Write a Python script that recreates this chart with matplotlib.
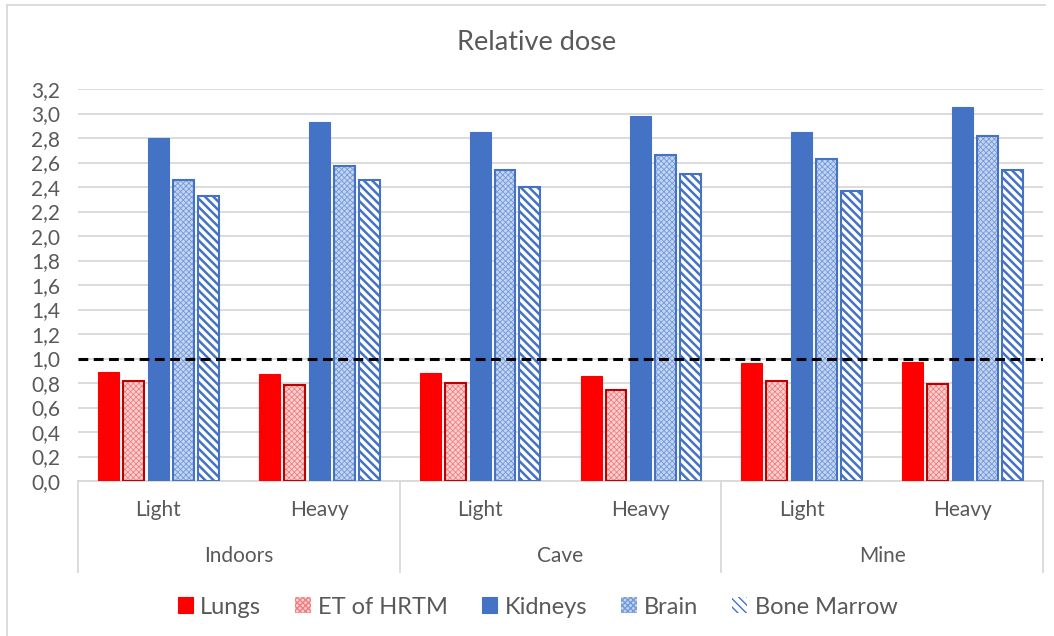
import matplotlib
matplotlib.use("Agg")
import matplotlib.pyplot as plt
import numpy as np
from matplotlib.lines import Line2D
from matplotlib.transforms import blended_transform_factory

groups = ["Indoors", "Cave", "Mine"]
levels = ["Light", "Heavy"]
series = ["Lungs", "ET of HRTM", "Kidneys", "Brain", "Bone Marrow"]
lungs = [0.89, 0.87, 0.88, 0.86, 0.96, 0.97]
et_hrtm = [0.82, 0.78, 0.80, 0.74, 0.82, 0.79]
kidneys = [2.80, 2.93, 2.85, 2.98, 2.85, 3.05]
brain = [2.46, 2.57, 2.54, 2.66, 2.63, 2.82]
bone_marrow = [2.33, 2.46, 2.40, 2.51, 2.37, 2.54]
yticks = [0.0, 0.2, 0.4, 0.6, 0.8, 1.0, 1.2, 1.4, 1.6, 1.8, 2.0, 2.2, 2.4, 2.6, 2.8, 3.0, 3.2]

plt.rcParams['font.family'] = ['Lato', 'DejaVu Sans']
TXT = '#595959'
GRID = '#D9D9D9'
FS = 15

W, H = 1054, 636
fig = plt.figure(figsize=(W / 100, H / 100), dpi=100)
ax = fig.add_axes([78 / W, 1 - 481 / H, (1043 - 78) / W, (481 - 89) / H])

n = len(lungs)
x = np.arange(n)
pitch = 0.155
width = 0.13
styles = [
    dict(facecolor='#FF0000', edgecolor='#FF0000', hatch=None, lw=0.8),
    dict(facecolor='#FBD0D0', edgecolor='#F08080', hatch='xxxxxx', hlw=0.6, edge2='#C00000'),
    dict(facecolor='#4472C4', edgecolor='#4472C4', hatch=None, lw=0.8),
    dict(facecolor='#C4D5F0', edgecolor='#7399DA', hatch='xxxxxx', hlw=0.6, edge2='#4472C4'),
    dict(facecolor='white', edgecolor='#4472C4', hatch='\\\\\\\\', hlw=1.8, edge2='#4472C4'),
]
data = [lungs, et_hrtm, kidneys, brain, bone_marrow]
handles = []
for i, (vals, st) in enumerate(zip(data, styles)):
    pos = x + (i - 2) * pitch
    if st['hatch']:
        with plt.rc_context({'hatch.linewidth': st['hlw']}):
            b = ax.bar(pos, vals, width, facecolor=st['facecolor'], edgecolor=st['edgecolor'],
                       hatch=st['hatch'], linewidth=0, zorder=3)
        ax.bar(pos, vals, width, fill=False, edgecolor=st['edge2'], linewidth=1.5, zorder=4)
    else:
        b = ax.bar(pos, vals, width, color=st['facecolor'], edgecolor=st['edgecolor'],
                   linewidth=st['lw'], zorder=3)
    handles.append(b)

ax.axhline(1.0, color='black', linestyle=(0, (3.2, 1.8)), linewidth=2.2, zorder=5)

ax.set_xlim(-0.5, n - 0.5)
ax.set_ylim(0, 3.2)
ax.set_yticks(yticks)
ax.set_yticklabels([f"{v:.1f}".replace('.', ',') for v in yticks], fontsize=FS, color=TXT)
ax.yaxis.grid(True, color=GRID, linewidth=1.3, zorder=0)
ax.set_axisbelow(True)
ax.tick_params(axis='y', length=0, pad=13)
ax.tick_params(axis='x', length=0, pad=14)
for s in ['top', 'right', 'left']:
    ax.spines[s].set_visible(False)
ax.spines['bottom'].set_color(GRID)
ax.spines['bottom'].set_linewidth(1.3)

ax.set_xticks(x)
ax.set_xticklabels([levels[i % 2] for i in range(n)], fontsize=FS, color=TXT)

tr = blended_transform_factory(ax.transData, ax.transAxes)
y_bot = -(572 - 481) / (481 - 89)
for k in range(len(groups) + 1):
    xs = -0.5 + 2 * k
    ax.add_line(Line2D([xs, xs], [0, y_bot], transform=tr, color=GRID, linewidth=1.3, clip_on=False))
for g, name in enumerate(groups):
    ax.text(2 * g + 0.5, -(556 - 481) / (481 - 89), name, transform=tr, ha='center', va='center',
            fontsize=FS, color=TXT)

fig.text(537 / W, 1 - 42 / H, "Relative dose", ha='center', va='center', fontsize=19.5, color=TXT)

leg = fig.legend(handles, series, loc='center', bbox_to_anchor=(0.51, 1 - 607 / H), ncol=5,
                 frameon=False, fontsize=17, handlelength=0.65, handleheight=0.65,
                 handletextpad=0.3, columnspacing=1.45, labelcolor=TXT)

fig.add_artist(Line2D([7 / W, 1045 / W], [1 - 5 / H, 1 - 5 / H], transform=fig.transFigure,
                      color=GRID, linewidth=1.3))
fig.add_artist(Line2D([7 / W, 7 / W], [1 - 5 / H, 0], transform=fig.transFigure,
                      color=GRID, linewidth=1.3))

fig.savefig('out.png', dpi=100)
